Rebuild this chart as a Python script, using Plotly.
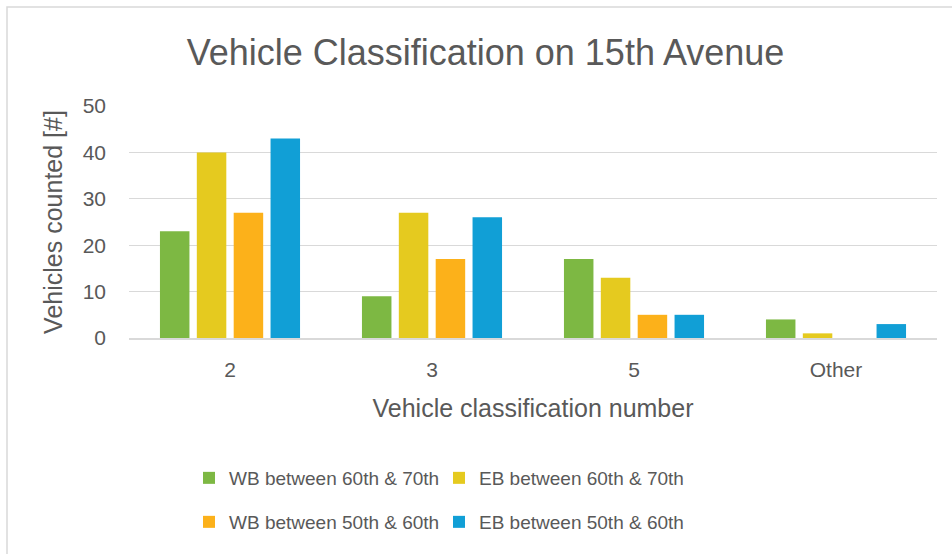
import plotly.graph_objects as go

categories = ["2", "3", "5", "Other"]
series_names = ["WB between 60th & 70th", "EB between 60th & 70th",
                "WB between 50th & 60th", "EB between 50th & 60th"]
wb_60_70 = [23, 9, 17, 4]
eb_60_70 = [40, 27, 13, 1]
wb_50_60 = [27, 17, 5, 0]
eb_50_60 = [43, 26, 5, 3]
colors = ["#7DB843", "#E5CA1F", "#FCB11A", "#119FD6"]
legend_ids = ["legend", "legend2", "legend3", "legend4"]

fig = go.Figure()
for name, vals, col, lg in zip(series_names, [wb_60_70, eb_60_70, wb_50_60, eb_50_60], colors, legend_ids):
    fig.add_trace(go.Bar(x=categories, y=vals, name=name, marker_color=col,
                         marker_line_width=0, legend=lg))

font_color = "#595959"
FONT = "Liberation Sans, Arial, sans-serif"
L, R, T, B = 129, 15, 106, 216
PW, PH = 952 - L - R, 554 - T - B

leg_common = dict(orientation="h", xanchor="left", yanchor="middle",
                  font=dict(size=19, color=font_color), itemwidth=30,
                  traceorder="normal", bgcolor="rgba(0,0,0,0)")
col_left = [189, 439]   # legend box left edges (px)
row_mid = [478, 522]    # legend row centres (px)

fig.update_layout(
    width=952, height=554,
    paper_bgcolor="white", plot_bgcolor="white",
    font=dict(family=FONT, color=font_color, size=20),
    margin=dict(l=L, r=R, t=T, b=B, autoexpand=False),
    barmode="group", bargap=0.27, bargroupgap=0.2,
    title=dict(text="Vehicle Classification on 15th Avenue", x=485.5 / 952, xanchor="center",
               y=1 - 52 / 554, yanchor="middle", font=dict(size=36, color=font_color)),
    xaxis=dict(showgrid=False, showline=True, linecolor="#d9d9d9", linewidth=1.5,
               ticks="", tickfont=dict(size=21, color=font_color), ticklabelstandoff=12,
               title=dict(text="Vehicle classification number", standoff=20,
                          font=dict(size=25, color=font_color))),
    yaxis=dict(range=[0, 50], dtick=10, showgrid=True, gridcolor="#d9d9d9", gridwidth=1,
               zeroline=False, ticks="", tickfont=dict(size=21, color=font_color),
               ticklabelstandoff=22,
               title=dict(text="Vehicles counted [#]", standoff=12,
                          font=dict(size=25, color=font_color))),
    legend=dict(leg_common, x=(col_left[0] - L) / PW, y=(338 - row_mid[0]) / PH),
    legend2=dict(leg_common, x=(col_left[1] - L) / PW, y=(338 - row_mid[0]) / PH),
    legend3=dict(leg_common, x=(col_left[0] - L) / PW, y=(338 - row_mid[1]) / PH),
    legend4=dict(leg_common, x=(col_left[1] - L) / PW, y=(338 - row_mid[1]) / PH),
    showlegend=True,
)

# outer chart frame (partially cropped in the reference)
fig.add_shape(type="rect", xref="paper", yref="paper",
              x0=(7 - L) / PW, x1=1.2, y0=-1.5, y1=(338 - 7) / PH,
              line=dict(color="#d9d9d9", width=1.5), fillcolor="rgba(0,0,0,0)", layer="below")

fig.write_html("out.html", config={"displayModeBar": False},
               post_script="document.body.style.margin='0';document.body.style.overflow='hidden';")
